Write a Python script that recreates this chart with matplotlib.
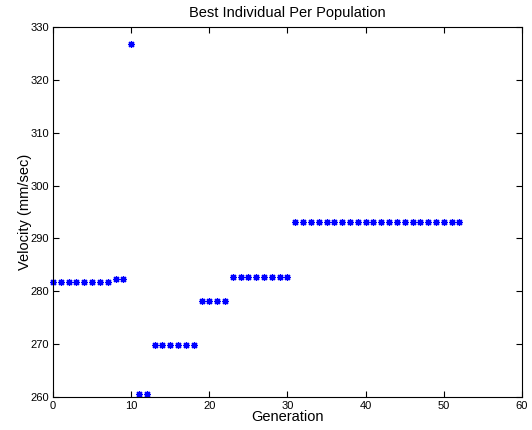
import numpy as np
import matplotlib
matplotlib.use('Agg')
import matplotlib.pyplot as plt

plt.rcParams['font.family'] = ['Liberation Sans', 'DejaVu Sans']

# best velocity per generation
generation = list(range(0, 53))
velocity = ([281.7] * 8 + [282.3] * 2 + [326.8] + [260.6] * 2 + [269.8] * 6
            + [278.1] * 4 + [282.7] * 8 + [293.2] * 22)

xticks = [0, 10, 20, 30, 40, 50, 60]
yticks = [260, 270, 280, 290, 300, 310, 320, 330]

fig = plt.figure(figsize=(5.32, 4.3), dpi=100)
ax = fig.add_axes([0.0996, 0.0767, 0.8816, 0.8605])
# matlab style asterisk: + and x overlaid
ax.plot(generation, velocity, linestyle='none', marker=(8, 2, 0), color='blue',
        markersize=5, markeredgewidth=0.9, clip_on=False)

ax.set_xlim(0, 60)
ax.set_ylim(260, 330)
ax.set_xticks(xticks)
ax.set_yticks(yticks)
ax.tick_params(direction='in', length=4, width=0.8, labelsize=8,
               top=True, right=True, pad=3)
for s in ax.spines.values():
    s.set_linewidth(0.8)

ax.set_xlabel('Generation', fontsize=10.5, labelpad=-1)
ax.set_ylabel('Velocity (mm/sec)', fontsize=10.5, labelpad=-1)
ax.set_title('Best Individual Per Population', fontsize=10.5, pad=7)

fig.savefig('out.png', dpi=100)
